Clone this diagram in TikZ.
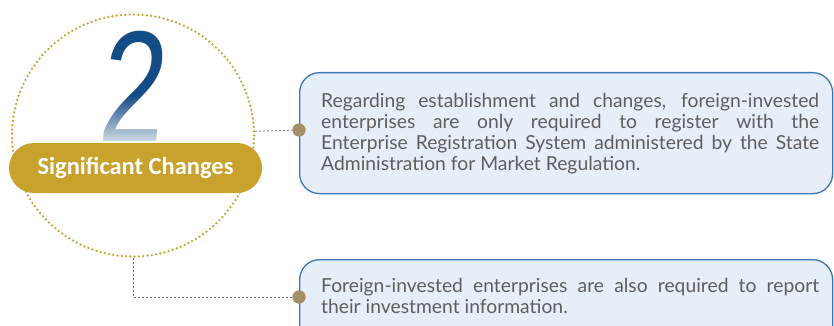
\documentclass[tikz,border=0pt]{standalone}
\usepackage{fontspec}
\setmainfont{Carlito}
\newfontfamily\numfont{Liberation Sans}
\newfontfamily\boxfont{Lato}
\usetikzlibrary{fadings}
\definecolor{gold}{HTML}{C8A22D}
\definecolor{numblue}{HTML}{144D85}
\definecolor{dotbrown}{HTML}{A58F66}
\definecolor{boxline}{HTML}{3A76B4}
\definecolor{boxfill}{HTML}{E6EEF8}
\definecolor{txtgray}{HTML}{5E5E5E}
\definecolor{linegray}{HTML}{707070}
\tikzset{
  dotring/.style={circle, draw=gold, line width=2.5pt, dash pattern=on 0pt off 4.3pt, line cap=round, inner sep=0, minimum size=242pt},
  infobox/.style={draw=boxline, fill=boxfill, line width=1.3pt, rounded corners=20pt, inner sep=0, anchor=north west},
  knob/.style={circle, fill=dotbrown, inner sep=0, minimum size=13pt},
  conn/.style={draw=linegray, line width=0.8pt, dash pattern=on 2pt off 2pt},
  txt/.style={text width=498pt, align=justify, inner sep=0, text=txtgray, font=\boxfont\fontsize{19.3}{21.2}\selectfont, anchor=base west},
  pillbox/.style={fill=gold, rounded corners=25pt, minimum width=253pt, minimum height=50pt, inner sep=0, text=white, font=\fontsize{24.5}{26}\selectfont\bfseries}
}
\begin{document}
\begin{tikzpicture}[x=1pt,y=-1pt]
\clip (0,0) rectangle (834,326);
\fill[white] (0,0) rectangle (834,326);
% boxes
\node[infobox, minimum width=533pt, minimum height=121pt] (box1) at (299,72) {};
\node[infobox, minimum width=533pt, minimum height=121pt] (box2) at (299,259) {};
% ring
\node[dotring] (circ) at (133,135.5) {};
% knobs
\node[knob] (dot1) at (299,130) {};
\node[knob] (dot2) at (299,297) {};
% connectors
\draw[conn] (circ.2.6) -- (dot1);
\draw[conn] (circ.south) |- (dot2);
\node[knob] at (dot1) {};
\node[knob] at (dot2) {};
% big number
\node[font=\numfont\fontsize{158}{158}\selectfont, text=numblue, inner sep=0, anchor=base, xscale=0.74, xslant=0.12, transform shape] (num) at (130,141.5) {2};
\fill[white, path fading=north, fill opacity=0.85] (90,96) rectangle (176,144);
% pill
\node[pillbox] (pill) at (135.5,168) {Significant Changes};
% texts
\node[txt] (t1) at (321,107) {\hyphenpenalty=10000\exhyphenpenalty=10000\tolerance=10000\relax Regarding establishment and changes, foreign-invested\linebreak enterprises are only required to register with the\linebreak Enterprise Registration System administered by the State\linebreak Administration for Market Regulation.};
\node[txt] (t2) at (321,292) {\hyphenpenalty=10000\exhyphenpenalty=10000\tolerance=10000\relax Foreign-invested enterprises are also required to report\linebreak their investment information.};
\end{tikzpicture}
\end{document}
